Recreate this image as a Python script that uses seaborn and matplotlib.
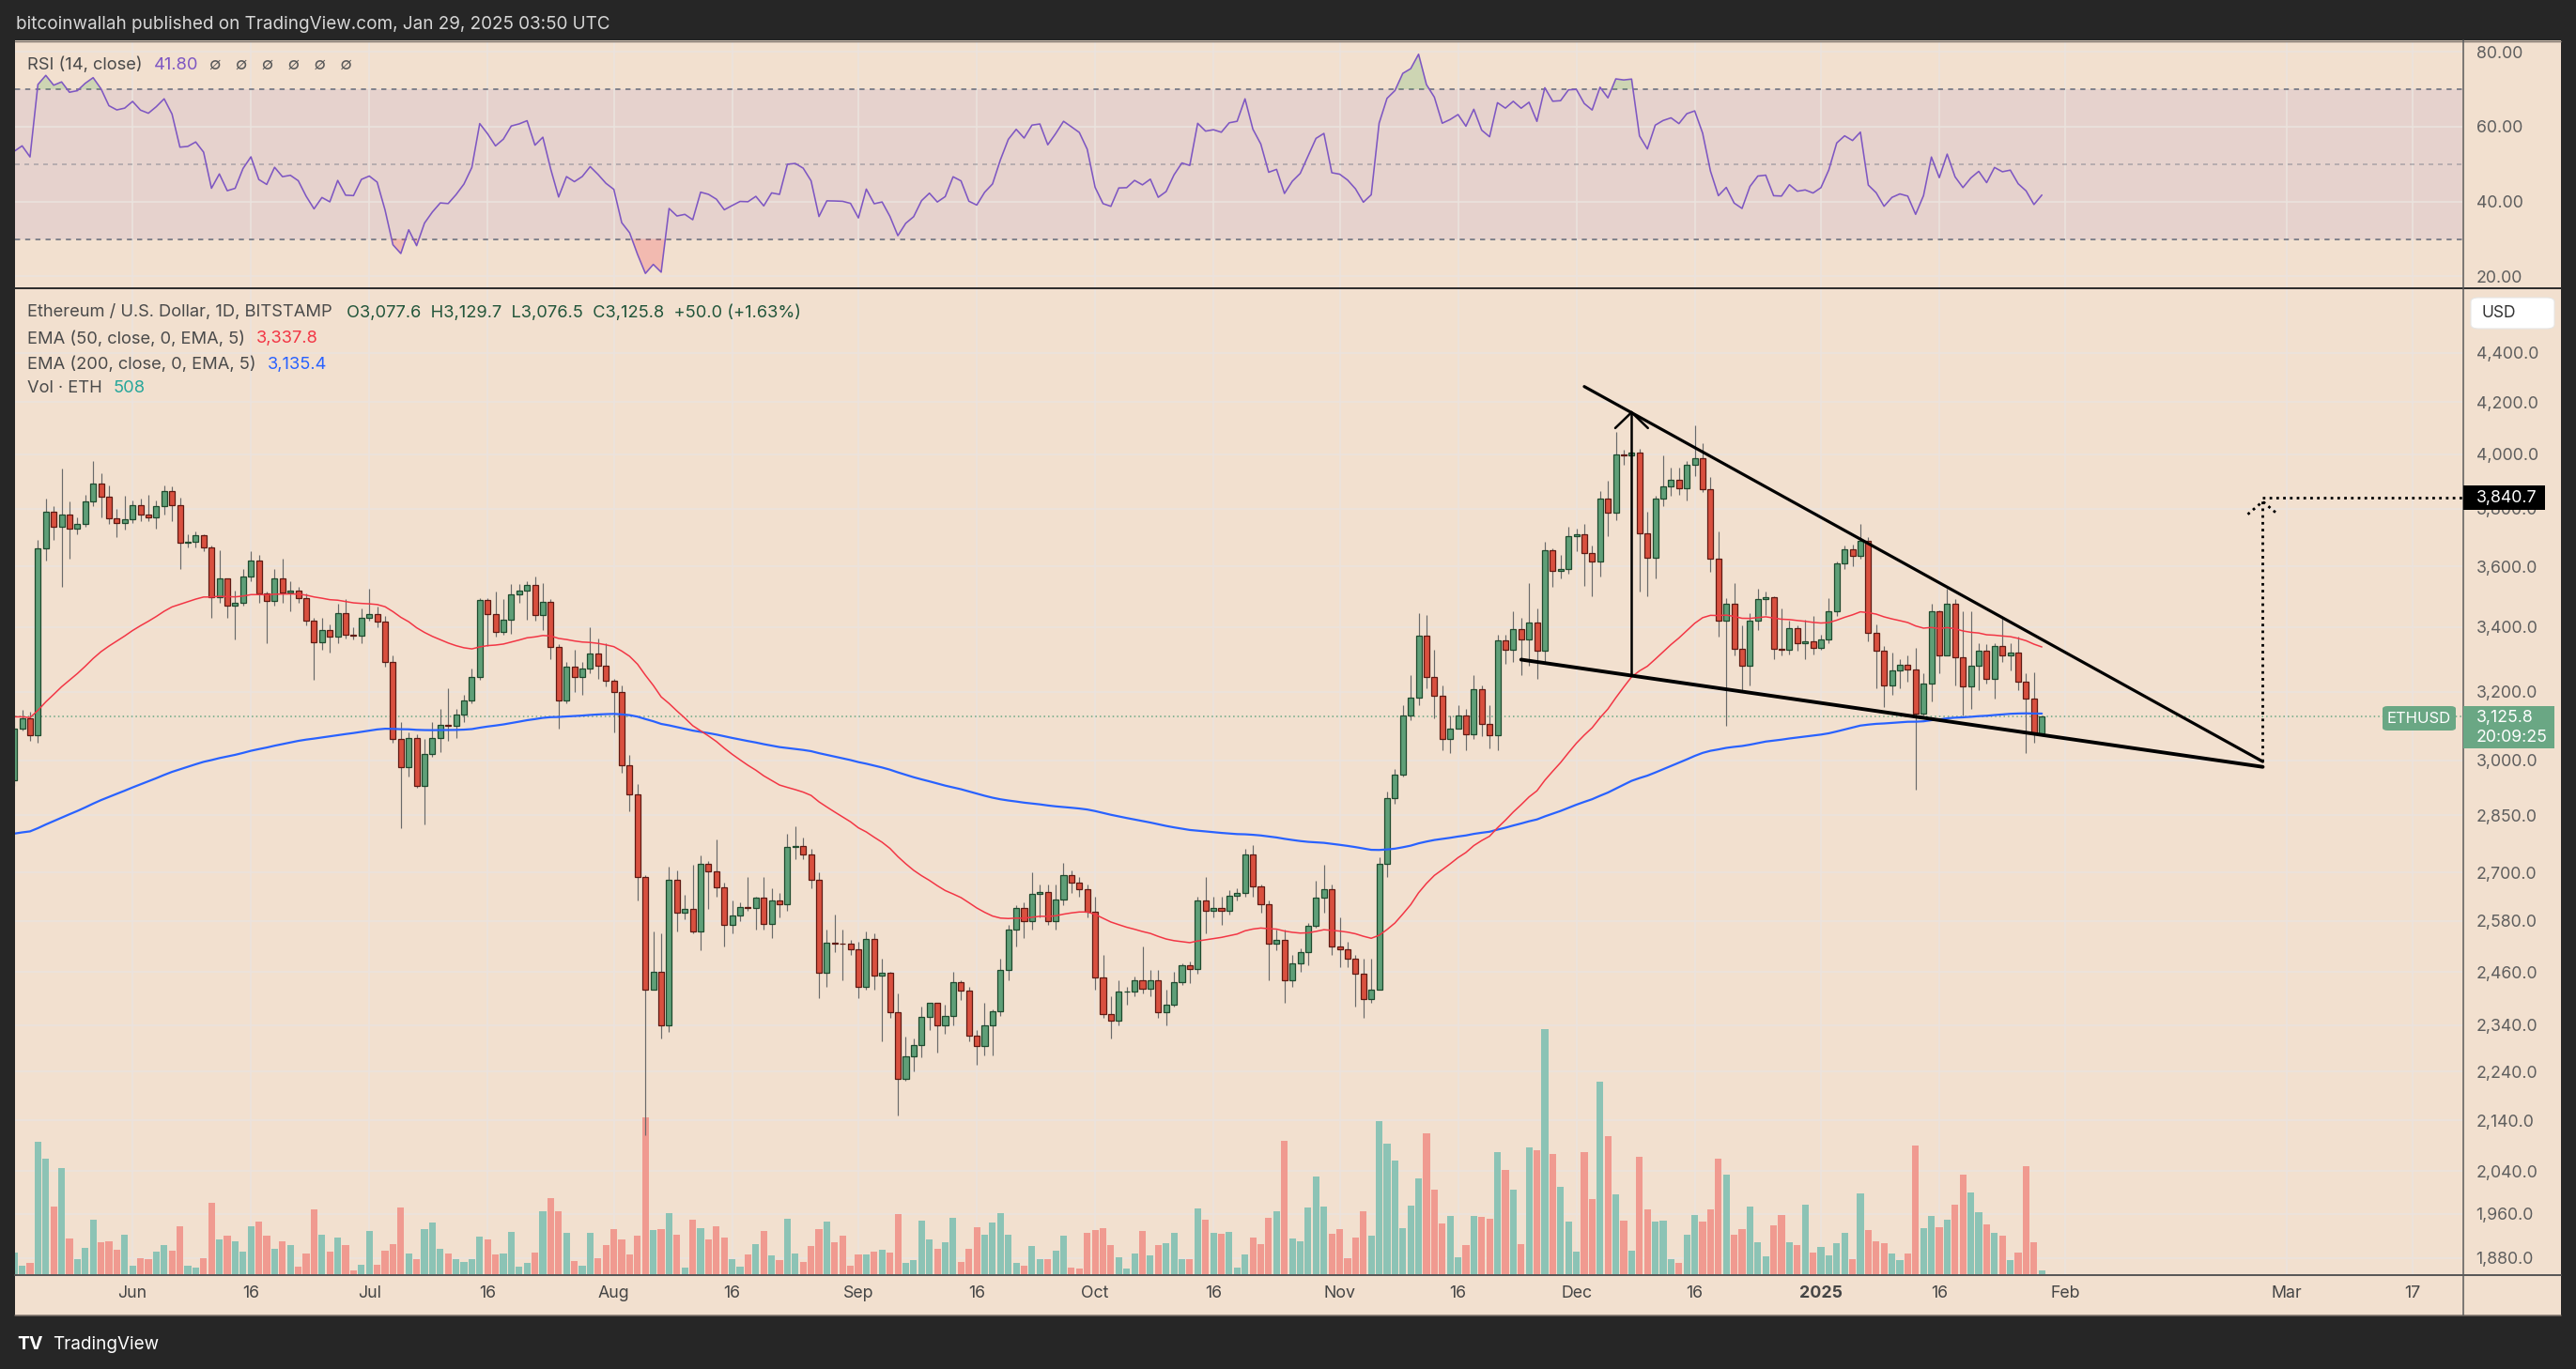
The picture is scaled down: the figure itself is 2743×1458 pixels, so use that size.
import numpy as np
import pandas as pd
import matplotlib
matplotlib.use("Agg")
import matplotlib.pyplot as plt
from matplotlib.patches import Rectangle, FancyBboxPatch
from matplotlib.lines import Line2D
from matplotlib.ticker import NullLocator, FixedLocator, FixedFormatter
import seaborn as sns

# ---------------- data ----------------
start_date = "2024-05-17"
first_open = 2945.0

closes = [
    3092, 3122, 3071, 3662, 3788, 3737, 3779, 3728, 3745, 3826, 3890, 3842, 3767, 3748, 3762,
    3814, 3780, 3768, 3811, 3865, 3812, 3680, 3684, 3706, 3666,
    3497, 3560, 3470, 3480, 3566, 3621, 3510, 3484, 3560, 3514,
    3520, 3495, 3420, 3352, 3392, 3370, 3446, 3376, 3374, 3430,
    3442, 3418, 3292, 3060, 2982, 3065, 2930, 3018, 3064, 3102,
    3098, 3133, 3175, 3245, 3488, 3442, 3386, 3425, 3505, 3518,
    3537, 3440, 3482, 3337, 3174, 3275, 3245, 3270, 3318, 3278, 3232,
    3200, 2987, 2905, 2690, 2420, 2460, 2340, 2682, 2600, 2610,
    2555, 2722, 2703, 2662, 2570, 2593, 2614, 2612, 2637, 2573,
    2631, 2622, 2765, 2769, 2746, 2683, 2458, 2528, 2527, 2525, 2513,
    2425, 2538, 2451, 2458, 2368, 2225, 2272, 2297, 2359, 2389,
    2340, 2360, 2437, 2418, 2316, 2295, 2340, 2370, 2465, 2560,
    2612, 2580, 2646, 2652, 2580, 2632, 2694, 2676, 2658, 2603,
    2448, 2364, 2349, 2414, 2415, 2440, 2422, 2440, 2368, 2385,
    2436, 2475, 2467, 2630, 2606, 2612, 2605, 2642, 2648, 2746,
    2666, 2622, 2525, 2535, 2440, 2480, 2506, 2568, 2638, 2659, 2519,
    2513, 2490, 2455, 2398, 2420, 2722, 2896, 2961, 3130, 3183,
    3372, 3245, 3188, 3060, 3090, 3130, 3075, 3208, 3105, 3071,
    3358, 3330, 3395, 3362, 3415, 3325, 3655, 3584, 3590, 3705,
    3710, 3645, 3615, 3835, 3785, 4000, 3995, 4005, 3712, 3628,
    3835, 3880, 3905, 3873, 3960, 3985, 3870, 3625, 3420, 3475,
    3332, 3280, 3420, 3492, 3498, 3333, 3330, 3397, 3348, 3355, 3334,
    3360, 3450, 3610, 3658, 3635, 3688, 3382, 3325, 3218, 3265,
    3283, 3268, 3135, 3225, 3452, 3310, 3475, 3305, 3215, 3280,
    3325, 3240, 3340, 3310, 3320, 3229, 3179, 3077.6, 3125.8,
]

highs = [
    3120, 3145, 3140, 3690, 3835, 3810, 3945, 3825, 3770, 3850, 3975, 3930, 3885, 3800, 3845,
    3830, 3835, 3850, 3830, 3885, 3880, 3840, 3710, 3720, 3710,
    3670, 3655, 3560, 3520, 3590, 3650, 3640, 3515, 3590, 3625,
    3550, 3530, 3510, 3430, 3430, 3410, 3475, 3490, 3400, 3460,
    3525, 3465, 3435, 3310, 3110, 3080, 3075, 3060, 3110, 3150,
    3210, 3150, 3190, 3270, 3495, 3495, 3515, 3490, 3540, 3540,
    3550, 3565, 3545, 3490, 3345, 3290, 3330, 3290, 3400, 3365, 3350,
    3240, 3220, 3015, 2935, 2695, 2555, 2550, 2715, 2705, 2645,
    2720, 2745, 2730, 2785, 2675, 2630, 2625, 2690, 2640, 2690,
    2660, 2650, 2800, 2820, 2790, 2760, 2700, 2560, 2595, 2560, 2535,
    2530, 2555, 2550, 2490, 2460, 2410, 2315, 2310, 2380, 2390,
    2390, 2385, 2460, 2440, 2425, 2330, 2390, 2375, 2490, 2570,
    2620, 2625, 2700, 2670, 2670, 2670, 2725, 2705, 2690, 2670,
    2640, 2500, 2405, 2440, 2425, 2450, 2520, 2465, 2465, 2420,
    2460, 2480, 2485, 2640, 2690, 2640, 2640, 2655, 2660, 2760,
    2770, 2670, 2630, 2560, 2560, 2500, 2515, 2575, 2680, 2720, 2670,
    2590, 2530, 2500, 2490, 2490, 2740, 2915, 2975, 3160, 3250,
    3445, 3440, 3330, 3220, 3130, 3160, 3150, 3250, 3220, 3160,
    3375, 3375, 3450, 3430, 3545, 3460, 3685, 3660, 3640, 3735,
    3730, 3745, 3670, 3865, 3900, 4085, 4015, 4010, 4020, 3790,
    3845, 3995, 3950, 3950, 3975, 4108, 4040, 3915, 3720, 3495,
    3545, 3405, 3445, 3525, 3515, 3500, 3460, 3420, 3405, 3425, 3435,
    3375, 3495, 3615, 3670, 3675, 3745, 3700, 3410, 3340, 3320,
    3300, 3310, 3335, 3255, 3475, 3455, 3525, 3490, 3450, 3450,
    3350, 3345, 3350, 3430, 3350, 3370, 3255, 3260, 3129.7,
]

lows = [
    2930, 3085, 3055, 3050, 3620, 3690, 3530, 3626, 3710, 3735, 3810, 3770, 3745, 3700, 3725,
    3750, 3755, 3755, 3730, 3780, 3755, 3590, 3665, 3665, 3650,
    3430, 3480, 3430, 3360, 3470, 3550, 3480, 3350, 3470, 3480,
    3450, 3480, 3405, 3235, 3330, 3320, 3350, 3365, 3360, 3350,
    3420, 3400, 3275, 3050, 2815, 2955, 2925, 2825, 3010, 3025,
    3055, 3065, 3110, 3165, 3235, 3340, 3370, 3375, 3380, 3480,
    3425, 3420, 3390, 3300, 3090, 3165, 3200, 3190, 3255, 3240, 3215,
    3080, 2965, 2860, 2630, 2110, 2420, 2310, 2325, 2555, 2585,
    2550, 2510, 2610, 2640, 2520, 2550, 2580, 2605, 2560, 2560,
    2540, 2590, 2605, 2735, 2735, 2660, 2400, 2425, 2505, 2440, 2500,
    2400, 2420, 2420, 2305, 2355, 2150, 2220, 2240, 2270, 2330,
    2280, 2320, 2340, 2395, 2305, 2255, 2275, 2275, 2360, 2440,
    2520, 2540, 2560, 2590, 2570, 2560, 2620, 2650, 2640, 2590,
    2420, 2355, 2310, 2340, 2385, 2405, 2410, 2405, 2355, 2340,
    2380, 2430, 2435, 2455, 2550, 2590, 2570, 2595, 2630, 2640,
    2640, 2600, 2440, 2510, 2390, 2425, 2460, 2475, 2565, 2600, 2500,
    2470, 2470, 2380, 2355, 2390, 2420, 2690, 2880, 2955, 3115,
    3160, 3210, 3120, 3030, 3020, 3090, 3030, 3060, 3070, 3035,
    3030, 3285, 3290, 3250, 3280, 3240, 3290, 3530, 3560, 3575,
    3650, 3535, 3500, 3565, 3705, 3760, 3960, 3940, 3515, 3500,
    3560, 3810, 3845, 3850, 3830, 3920, 3860, 3580, 3370, 3100,
    3310, 3200, 3220, 3390, 3440, 3300, 3310, 3315, 3325, 3300, 3315,
    3330, 3350, 3435, 3590, 3600, 3625, 3355, 3210, 3155, 3190,
    3210, 3230, 2920, 3130, 3170, 3255, 3310, 3220, 3130, 3150,
    3205, 3225, 3180, 3290, 3265, 3205, 3020, 3050, 3076.5,
]

volumes = [
    2900, 1130, 1510, 17770, 15500, 9070, 14240, 4790, 2020, 3530, 7310, 4280, 4410, 3280, 5290,
    1130, 2140, 2020, 3020, 3910, 3150, 6430, 1130, 880, 2140,
    9580, 4660, 5170, 4410, 3020, 6430, 7060, 5170, 3400, 4410,
    3910, 1010, 2770, 8690, 5290, 3020, 4910, 3910, 500, 1260,
    5800, 1260, 3150, 4030, 8950, 2770, 2020, 6050, 6930, 3400,
    2770, 2020, 1640, 2020, 5040, 4660, 2650, 2770, 5670, 1010,
    1510, 2900, 8440, 10210, 8440, 5540, 1760, 1130, 5540, 2140, 3910,
    6050, 4660, 2650, 5170, 21040, 5920, 6050, 8190, 5290, 880,
    7310, 6170, 4660, 6430, 4910, 2020, 1010, 2650, 4030, 5800,
    2520, 1890, 7430, 2770, 1640, 3780, 6050, 7060, 4280, 5170, 1130,
    2650, 2650, 3020, 3280, 2900, 8060, 1510, 1890, 7180, 4660,
    3400, 4280, 7560, 1640, 3400, 6300, 5290, 6930, 8190, 5290,
    1510, 1130, 3780, 2020, 2020, 3150, 5170, 880, 760, 5540,
    5920, 6170, 3910, 2270, 760, 2770, 5800, 2520, 3910, 4160,
    5540, 2020, 2020, 8820, 7310, 5540, 5420, 5670, 880, 2650,
    4910, 4030, 7560, 8440, 17890, 4790, 4410, 8950, 13100, 9070, 5420,
    6050, 2140, 4910, 8440, 5170, 20540, 17510, 15250, 6170, 9200,
    12850, 18900, 11340, 6800, 7810, 2270, 3910, 7810, 7690, 7430,
    16380, 13990, 11340, 4030, 17010, 16630, 32890, 16130, 11720, 7060,
    3020, 16380, 10080, 25830, 18520, 10710, 7180, 3150, 15750, 8690,
    7060, 7180, 2020, 1510, 5290, 7940, 7060, 8690, 15500, 13360,
    5290, 6050, 9070, 4280, 2390, 6550, 7940, 4280, 3910, 9320, 2900,
    3650, 2520, 4160, 5540, 2020, 10840, 5920, 4410, 4160, 2770,
    1890, 2770, 17260, 6170, 7810, 6300, 7310, 9320, 13360, 10960,
    8320, 6680, 5540, 5170, 1890, 2900, 14490, 4280, 508,
]

ema50_seed = 3127.0
ema200_seed = 2798.0
rsi_seed_gain = 30.0
rsi_seed_loss = 36.0

# axis ticks
price_ticks = [1880, 1960, 2040, 2140, 2240, 2340, 2460, 2580, 2700, 2850,
               3000, 3200, 3400, 3600, 3800, 4000, 4200, 4400]
rsi_ticks = [20, 40, 60, 80]
date_ticks = ["2024-06-01", "2024-06-16", "2024-07-01", "2024-07-16", "2024-08-01",
              "2024-08-16", "2024-09-01", "2024-09-16", "2024-10-01", "2024-10-16",
              "2024-11-01", "2024-11-16", "2024-12-01", "2024-12-16", "2025-01-01",
              "2025-01-16", "2025-02-01", "2025-03-01", "2025-03-17"]
date_labels = ["Jun", "16", "Jul", "16", "Aug", "16", "Sep", "16", "Oct", "16",
               "Nov", "16", "Dec", "16", "2025", "16", "Feb", "Mar", "17"]

# drawings (anchor points in date / price)
upper_line_dates = ["2024-12-02", "2025-02-26"]
upper_line_prices = [4262, 2997]
lower_line_dates = ["2024-11-24", "2025-02-26"]
lower_line_prices = [3298, 2982]
arrow_date = "2024-12-08"
arrow_prices = [3250, 4160]
arrow_wing_price = 4099
target_date = "2025-02-26"
target_base = 2997
target_price = 3840.7
last_price = 3125.8

# ---------------- styling ----------------
DARK = "#262626"
PEACH = "#F2E0CF"
GRID = "#EBE3DE"
GREEN_BODY = "#5F9F78"
GREEN_EDGE = "#1F4A2E"
RED_BODY = "#D9503F"
RED_EDGE = "#5E1A13"
WICK = "#6A6A6A"
VOL_UP = "#8CC3B5"
VOL_DN = "#F09A90"
EMA50_C = "#F23645"
EMA200_C = "#2962FF"
RSI_C = "#7E57C2"
TXT = "#4A4A4A"
AX_TXT = "#5E5E5E"
LBL_GREEN = "#6AA784"
LEG_SIZE = 13.2

sns.set_theme(style="white")
plt.rcParams["font.family"] = ["Inter", "DejaVu Sans"]
plt.rcParams["axes.unicode_minus"] = False

n = len(closes)
assert len(highs) == n and len(lows) == n and len(volumes) == n, (n, len(highs), len(lows), len(volumes))
dates = pd.date_range(start_date, periods=n, freq="D")
opens = [first_open] + closes[:-1]
df = pd.DataFrame({"date": dates, "open": opens, "high": highs, "low": lows,
                   "close": closes, "volume": volumes})
df["high"] = df[["high", "open", "close"]].max(axis=1)
df["low"] = df[["low", "open", "close"]].min(axis=1)
up = (df["close"] >= df["open"]).values


def ema(values, seed, length):
    a = 2.0 / (length + 1)
    e = seed
    out = []
    for v in values:
        e = e + a * (v - e)
        out.append(e)
    return out


df["ema50"] = ema(df["close"], ema50_seed, 50)
df["ema200"] = ema(df["close"], ema200_seed, 200)

ag, al, prev = rsi_seed_gain, rsi_seed_loss, first_open
rsi_vals = []
for c in closes:
    ch = c - prev
    prev = c
    ag = (ag * 13 + max(ch, 0)) / 14
    al = (al * 13 + max(-ch, 0)) / 14
    rsi_vals.append(100 * ag / (ag + al))
df["rsi"] = rsi_vals

# ---------------- figure ----------------
W, H = 2743, 1458
fig = plt.figure(figsize=(W / 100, H / 100), dpi=100)
fig.patch.set_facecolor(DARK)


def frect(x0, y0, x1, y1):
    return [x0 / W, 1 - y1 / H, (x1 - x0) / W, (y1 - y0) / H]


def fx(x):
    return x / W


def fy(y):
    return 1 - y / H


fig.patches.append(Rectangle((fx(16), fy(1401)), (2727 - 16) / W, (1401 - 43) / H,
                             transform=fig.transFigure, fc=PEACH, ec="none", zorder=-5))

ax_rsi = fig.add_axes(frect(16, 44, 2622, 306))
ax_vol = fig.add_axes(frect(16, 307, 2622, 1357), sharex=ax_rsi)
ax_p = fig.add_axes(frect(16, 307, 2622, 1357), sharex=ax_rsi)
ax_rsi.set_zorder(1)
ax_vol.set_zorder(1)
ax_p.set_zorder(2)
for ax in (ax_rsi, ax_vol, ax_p):
    ax.set_facecolor(PEACH)
    for s in ax.spines.values():
        s.set_visible(False)
ax_p.patch.set_visible(False)

tick_dates = pd.to_datetime(date_ticks)
x_left = pd.Timestamp("2025-01-01") - pd.Timedelta(days=228.9)
x_right = pd.Timestamp("2025-01-01") + pd.Timedelta(days=81.3)

# ---- RSI pane ----
ax_rsi.axhspan(30, 70, color=RSI_C, alpha=0.10, lw=0, zorder=0)
for v in rsi_ticks:
    ax_rsi.axhline(v, color=GRID, lw=1.1, zorder=0.5)
for d in tick_dates:
    ax_rsi.axvline(d, color=GRID, lw=1.1, zorder=0.5)
ax_rsi.axhline(70, color="#787B86", lw=1.3, ls=(0, (3, 3)), zorder=1)
ax_rsi.axhline(30, color="#787B86", lw=1.3, ls=(0, (3, 3)), zorder=1)
ax_rsi.axhline(50, color="#787B86", lw=1.2, ls=(0, (3, 3)), alpha=0.5, zorder=1)
rsi_arr = df["rsi"].values
ax_rsi.fill_between(df["date"], 70, rsi_arr, where=rsi_arr > 70, interpolate=True,
                    color="#4CAF50", alpha=0.22, lw=0, zorder=1)
ax_rsi.fill_between(df["date"], 30, rsi_arr, where=rsi_arr < 30, interpolate=True,
                    color="#F23645", alpha=0.22, lw=0, zorder=1)
sns.lineplot(data=df, x="date", y="rsi", ax=ax_rsi, color=RSI_C, linewidth=1.15, zorder=3)
ax_rsi.set_ylim(17.1, 82.8)

# ---- Volume (under price) ----
for d in tick_dates:
    ax_vol.axvline(d, color=GRID, lw=1.1, zorder=0.5)
ytrans = ax_p.get_yaxis_transform()
for v in price_ticks:
    ax_vol.add_line(Line2D([0, 1], [v, v], transform=ytrans, color=GRID, lw=1.1, zorder=0.5))
vol_colors = [VOL_UP if u else VOL_DN for u in up]
ax_vol.bar(df["date"], df["volume"], width=0.85, color=vol_colors, lw=0, zorder=2)
ax_vol.set_ylim(0, 132300)
ax_vol.tick_params(left=False, right=False, bottom=False, labelleft=False,
                   labelright=False, labelbottom=False)

# ---- Price pane ----
ax_p.set_yscale("log")
ax_p.axhline(last_price, color=LBL_GREEN, lw=1.1, ls=(0, (1, 2)), zorder=1)
body_bottom = np.minimum(df["open"], df["close"])
body_h = np.abs(df["close"] - df["open"])
ax_p.vlines(df["date"], df["low"], df["high"], color=WICK, lw=0.85, zorder=3)
ax_p.bar(df["date"], body_h, bottom=body_bottom, width=0.72,
         color=[GREEN_BODY if u else RED_BODY for u in up],
         edgecolor=[GREEN_EDGE if u else RED_EDGE for u in up], linewidth=0.9, zorder=4)
sns.lineplot(data=df, x="date", y="ema200", ax=ax_p, color=EMA200_C, linewidth=1.6, zorder=5)
sns.lineplot(data=df, x="date", y="ema50", ax=ax_p, color=EMA50_C, linewidth=1.1, zorder=5)

ax_p.plot(pd.to_datetime(upper_line_dates), upper_line_prices, color="black", lw=2.3,
          solid_capstyle="round", zorder=7)
ax_p.plot(pd.to_datetime(lower_line_dates), lower_line_prices, color="black", lw=2.8,
          solid_capstyle="round", zorder=7)
ad = pd.Timestamp(arrow_date)
ax_p.plot([ad, ad], arrow_prices, color="black", lw=1.8, zorder=7)
ax_p.plot([ad - pd.Timedelta(days=2.07), ad, ad + pd.Timedelta(days=2.07)],
          [arrow_wing_price, arrow_prices[1], arrow_wing_price], color="black", lw=1.8,
          solid_joinstyle="miter", zorder=7)
td = pd.Timestamp(target_date)
ax_p.plot([td, td], [target_base, target_price], color="black", lw=2.0,
          ls=(0, (1, 1.6)), zorder=7)
ax_p.plot([td, x_right], [target_price, target_price], color="black", lw=2.0,
          ls=(0, (1, 1.6)), zorder=7)
ax_p.plot([td - pd.Timedelta(days=1.9), td, td + pd.Timedelta(days=1.9)],
          [3780, 3826, 3780], color="black", lw=2.0, ls=(0, (1, 1.6)), zorder=7)

ax_p.set_ylim(1852, 4674)
ax_p.yaxis.set_major_locator(FixedLocator(price_ticks))
ax_p.yaxis.set_major_formatter(FixedFormatter([f"{v:,.1f}" for v in price_ticks]))
ax_p.yaxis.set_minor_locator(NullLocator())
ax_p.yaxis.tick_right()
ax_p.tick_params(axis="y", length=0, pad=10.5, labelsize=12.8, labelcolor=AX_TXT)

ax_rsi.yaxis.tick_right()
ax_rsi.set_yticks(rsi_ticks)
ax_rsi.set_yticklabels([f"{v:.2f}" for v in rsi_ticks])
ax_rsi.tick_params(axis="y", length=0, pad=10.5, labelsize=12.8, labelcolor=AX_TXT)
ax_rsi.tick_params(axis="x", length=0, labelbottom=False)

for ax in (ax_rsi, ax_vol, ax_p):
    ax.set_xlabel("")
    ax.set_ylabel("")
ax_rsi.set_xlim(x_left, x_right)
ax_p.set_xticks(tick_dates)
ax_p.set_xticklabels(date_labels)
ax_p.tick_params(axis="x", length=0, pad=9, labelsize=12.8, labelcolor="#454545")
for lbl in ax_p.get_xticklabels():
    if lbl.get_text() == "2025":
        lbl.set_fontweight("bold")

# ---- frame lines ----
def fline(x0, y0, x1, y1, color, lw):
    fig.add_artist(Line2D([fx(x0), fx(x1)], [fy(y0), fy(y1)], transform=fig.transFigure,
                          color=color, lw=lw, zorder=15))

fline(16, 43.5, 2727, 43.5, "#7a7069", 1.0)
fline(16, 306.5, 2727, 306.5, "#2b2b2b", 1.4)
fline(16, 1357.5, 2727, 1357.5, "#555555", 1.4)
fline(16, 1400.5, 2727, 1400.5, "#7a7069", 1.1)
fline(2622.5, 43, 2622.5, 1401, "#5a5a5a", 1.1)

# ---- texts ----
renderer = fig.canvas.get_renderer()


def chain(x, y, parts, size, gap=12):
    for txt, color, weight in parts:
        t = fig.text(fx(x), fy(y), txt, color=color, fontsize=size, fontweight=weight,
                     ha="left", va="center", zorder=20)
        bb = t.get_window_extent(renderer=renderer)
        x = x + bb.width + gap


fig.text(fx(17), fy(26), "bitcoinwallah published on TradingView.com, Jan 29, 2025 03:50 UTC",
         color="#D6D6D6", fontsize=13.6, ha="left", va="center")
chain(29, 69, [("RSI (14, close)", TXT, "normal"), ("41.80", RSI_C, "normal"),
               ("\u2205   \u2205   \u2205   \u2205   \u2205   \u2205", "#5a5a5a", "normal")],
      LEG_SIZE)
chain(29, 333, [("Ethereum / U.S. Dollar, 1D, BITSTAMP", TXT, "normal"),
                ("O3,077.6  H3,129.7  L3,076.5  C3,125.8  +50.0 (+1.63%)", "#22553A", "normal")],
      LEG_SIZE, gap=15)
chain(29, 361, [("EMA (50, close, 0, EMA, 5)", TXT, "normal"), ("3,337.8", EMA50_C, "normal")],
      LEG_SIZE)
chain(29, 388, [("EMA (200, close, 0, EMA, 5)", TXT, "normal"), ("3,135.4", EMA200_C, "normal")],
      LEG_SIZE)
chain(29, 414, [("Vol \u00b7 ETH", TXT, "normal"), ("508", "#26A69A", "normal")], LEG_SIZE)

# right-axis labels
fig.patches.append(FancyBboxPatch((fx(2631), fy(350)), (2720 - 2631) / W, (350 - 317) / H,
                                  boxstyle="round,pad=0,rounding_size=0.003",
                                  transform=fig.transFigure, fc="white", ec="#e6e6e6",
                                  lw=0.8, zorder=16))
fig.text(fx(2643), fy(333), "USD", color="#333333", fontsize=12.5, ha="left", va="center", zorder=17)

fig.patches.append(Rectangle((fx(2623), fy(543)), (2710 - 2623) / W, (543 - 517) / H,
                             transform=fig.transFigure, fc="black", ec="none", zorder=16))
fig.text(fx(2637), fy(530), f"{target_price:,.1f}", color="white", fontsize=12.8,
         ha="left", va="center", zorder=17)

fig.patches.append(Rectangle((fx(2623), fy(797)), (2720 - 2623) / W, (797 - 752) / H,
                             transform=fig.transFigure, fc=LBL_GREEN, ec="none", zorder=16))
fig.text(fx(2637), fy(765), f"{last_price:,.1f}", color="white", fontsize=12.8,
         ha="left", va="center", zorder=17)
fig.text(fx(2637), fy(786), "20:09:25", color="white", fontsize=12.8,
         ha="left", va="center", zorder=17)
fig.patches.append(FancyBboxPatch((fx(2537), fy(778)), (2615 - 2537) / W, (778 - 752) / H,
                                  boxstyle="round,pad=0,rounding_size=0.002",
                                  transform=fig.transFigure, fc=LBL_GREEN, ec="none", zorder=16))
fig.text(fx(2576), fy(765), "ETHUSD", color="white", fontsize=12,
         ha="center", va="center", zorder=17)

# footer
fig.text(fx(18), fy(1432), "TV", color="white", fontsize=14, fontweight="bold",
         ha="left", va="center")
fig.text(fx(56), fy(1432), "TradingView", color="white", fontsize=13.6,
         ha="left", va="center")

fig.savefig("out.png", dpi=100, facecolor=DARK)
